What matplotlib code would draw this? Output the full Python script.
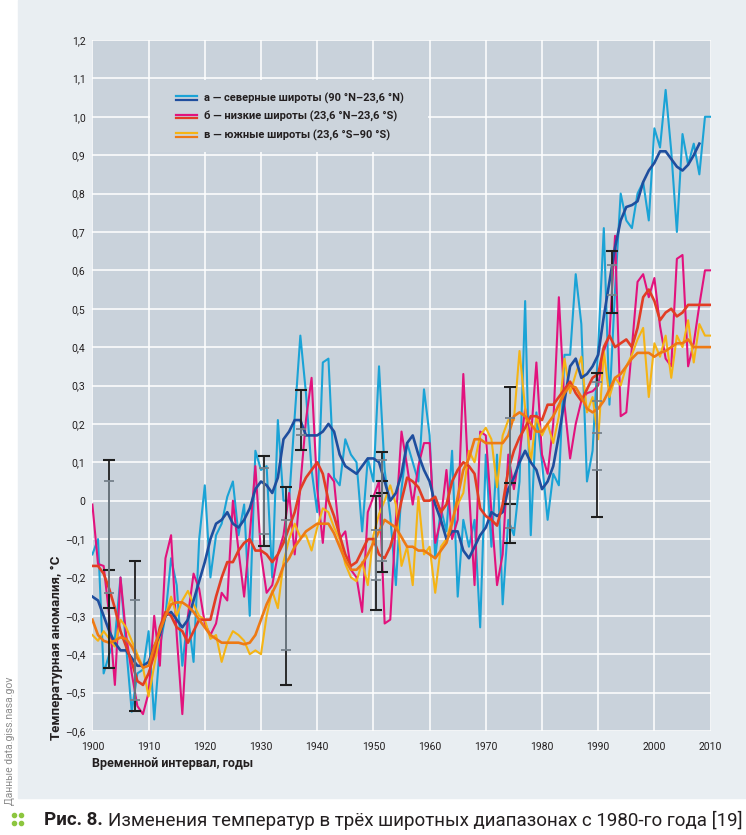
import numpy as np
import matplotlib.pyplot as plt
from matplotlib.patches import Rectangle
from matplotlib.lines import Line2D
from matplotlib.ticker import FuncFormatter, MultipleLocator

plt.rcParams['font.family'] = ['Roboto', 'DejaVu Sans']

years = list(range(1900, 2011))

# a - northern latitudes (90N-23.6N)
north_annual = [
    -0.14, -0.10, -0.45, -0.40, -0.36, -0.20, -0.38, -0.55, -0.45, -0.44,
    -0.34, -0.57, -0.38, -0.30, -0.15, -0.22, -0.43, -0.30, -0.42, -0.10,
    0.04, -0.20, -0.09, -0.06, 0.01, 0.05, -0.09, -0.01, -0.30, 0.13,
    0.08, 0.09, -0.20, 0.21, 0.00, 0.00, 0.22, 0.43, 0.28, 0.08,
    -0.03, 0.36, 0.37, 0.06, 0.04, 0.16, 0.12, 0.10, -0.08, 0.11,
    0.05, 0.35, 0.08, -0.04, -0.22, 0.03, 0.15, 0.10, 0.05, 0.29,
    0.17, -0.15, -0.02, -0.08, 0.13, -0.25, -0.05, -0.12, -0.05, -0.33,
    0.12, -0.12, 0.12, -0.27, -0.05, -0.09, 0.05, 0.52, -0.09, 0.23,
    0.10, -0.05, 0.07, 0.04, 0.38, 0.38, 0.59, 0.46, 0.05, 0.13,
    0.40, 0.71, 0.25, 0.55, 0.80, 0.73, 0.71, 0.80, 0.83, 0.73,
    0.97, 0.92, 1.07, 0.91, 0.70, 0.955, 0.875, 0.93, 0.85, 1.00, 1.00,
]
north_smooth = [
    -0.25, -0.26, -0.30, -0.34, -0.37, -0.39, -0.39, -0.41, -0.43, -0.43,
    -0.42, -0.38, -0.35, -0.30, -0.29, -0.31, -0.33, -0.31, -0.26, -0.21,
    -0.16, -0.10, -0.06, -0.05, -0.03, -0.06, -0.07, -0.05, -0.02, 0.03,
    0.05, 0.04, 0.02, 0.06, 0.16, 0.18, 0.21, 0.21, 0.17, 0.17,
    0.17, 0.18, 0.20, 0.18, 0.12, 0.09, 0.08, 0.07, 0.09, 0.11,
    0.11, 0.10, 0.05, 0.00, 0.02, 0.07, 0.15, 0.17, 0.12, 0.08,
    0.05, -0.01, -0.05, -0.10, -0.08, -0.08, -0.13, -0.15, -0.12, -0.09,
    -0.07, -0.03, -0.04, -0.03, 0.03, 0.06, 0.10, 0.13, 0.10, 0.08,
    0.03, 0.05, 0.09, 0.17, 0.26, 0.35, 0.37, 0.32, 0.33, 0.35,
    0.38, 0.48, 0.57, 0.66, 0.73, 0.765, 0.77, 0.78, 0.83, 0.86,
    0.88, 0.91, 0.91, 0.89, 0.87, 0.86, 0.875, 0.90, 0.93, np.nan, np.nan,
]

# b - low latitudes (23.6N-23.6S)
tropic_annual = [
    -0.01, -0.165, -0.17, -0.30, -0.48, -0.20, -0.35, -0.45, -0.535, -0.556,
    -0.50, -0.30, -0.43, -0.15, -0.09, -0.35, -0.556, -0.30, -0.19, -0.23,
    -0.32, -0.35, -0.32, -0.24, -0.26, 0.00, -0.13, -0.25, -0.09, 0.09,
    -0.14, -0.24, -0.22, -0.14, -0.09, 0.02, -0.14, 0.04, 0.21, 0.32,
    0.03, -0.11, 0.07, 0.05, -0.10, -0.08, -0.18, -0.20, -0.29, -0.03,
    0.01, 0.05, -0.32, -0.31, -0.05, 0.18, 0.09, -0.01, 0.09, 0.15,
    0.15, -0.11, -0.05, 0.08, -0.10, -0.05, 0.33, 0.03, -0.22, 0.18,
    0.17, -0.03, -0.22, -0.14, 0.12, 0.03, 0.12, 0.24, 0.16, 0.36,
    0.12, 0.07, 0.20, 0.53, 0.25, 0.11, 0.20, 0.26, 0.28, 0.285,
    0.30, 0.39, 0.43, 0.69, 0.22, 0.23, 0.40, 0.57, 0.59, 0.53,
    0.58, 0.455, 0.37, 0.35, 0.63, 0.64, 0.35, 0.41, 0.51, 0.60, 0.60,
]
tropic_smooth = [
    -0.17, -0.17, -0.19, -0.23, -0.28, -0.34, -0.38, -0.42, -0.47, -0.48,
    -0.45, -0.40, -0.33, -0.29, -0.30, -0.33, -0.34, -0.37, -0.34, -0.31,
    -0.31, -0.31, -0.25, -0.20, -0.16, -0.16, -0.13, -0.11, -0.10, -0.13,
    -0.13, -0.14, -0.16, -0.14, -0.11, -0.07, -0.03, 0.03, 0.06, 0.08,
    0.10, 0.07, 0.00, -0.04, -0.09, -0.14, -0.17, -0.16, -0.13, -0.10,
    -0.10, -0.14, -0.15, -0.12, -0.07, 0.00, 0.06, 0.05, 0.035, 0.00,
    0.00, 0.01, -0.03, -0.01, 0.05, 0.08, 0.10, 0.09, 0.07, -0.02,
    -0.04, -0.05, -0.065, -0.01, 0.08, 0.13, 0.165, 0.19, 0.22, 0.22,
    0.21, 0.25, 0.25, 0.27, 0.29, 0.31, 0.28, 0.26, 0.29, 0.32,
    0.33, 0.40, 0.43, 0.40, 0.41, 0.42, 0.40, 0.45, 0.53, 0.55,
    0.52, 0.47, 0.49, 0.50, 0.48, 0.49, 0.51, 0.51, 0.51, 0.51, 0.51,
]

# c - southern latitudes (23.6S-90S)
south_annual = [
    -0.35, -0.365, -0.34, -0.36, -0.38, -0.31, -0.33, -0.365, -0.40, -0.435,
    -0.51, -0.43, -0.35, -0.30, -0.25, -0.30, -0.26, -0.235, -0.27, -0.30,
    -0.31, -0.36, -0.35, -0.42, -0.37, -0.34, -0.35, -0.365, -0.40, -0.39,
    -0.40, -0.30, -0.235, -0.28, -0.16, -0.10, -0.06, -0.095, -0.09, -0.13,
    -0.07, -0.02, -0.03, -0.07, -0.10, -0.165, -0.20, -0.21, -0.16, -0.22,
    -0.09, -0.035, 0.00, 0.04, -0.01, -0.17, -0.12, -0.22, 0.01, -0.14,
    -0.12, -0.24, -0.12, -0.10, -0.05, -0.01, 0.02, 0.13, 0.10, 0.17,
    0.19, 0.16, 0.035, 0.17, 0.21, 0.21, 0.39, 0.24, 0.10, 0.22,
    0.17, 0.20, 0.15, 0.22, 0.37, 0.28, 0.33, 0.375, 0.23, 0.27,
    0.16, 0.39, 0.27, 0.32, 0.30, 0.35, 0.38, 0.42, 0.45, 0.27,
    0.41, 0.375, 0.43, 0.32, 0.43, 0.40, 0.47, 0.36, 0.46, 0.43, 0.43,
]
south_smooth = [
    -0.31, -0.35, -0.365, -0.37, -0.365, -0.356, -0.36, -0.38, -0.41, -0.435,
    -0.43, -0.38, -0.34, -0.30, -0.27, -0.265, -0.265, -0.275, -0.29, -0.31,
    -0.33, -0.35, -0.36, -0.37, -0.37, -0.37, -0.37, -0.374, -0.37, -0.35,
    -0.31, -0.27, -0.24, -0.21, -0.17, -0.15, -0.12, -0.10, -0.08, -0.07,
    -0.06, -0.06, -0.06, -0.085, -0.12, -0.155, -0.18, -0.18, -0.165, -0.14,
    -0.11, -0.08, -0.05, -0.06, -0.07, -0.095, -0.12, -0.12, -0.13, -0.13,
    -0.14, -0.15, -0.13, -0.11, -0.06, 0.01, 0.08, 0.11, 0.16, 0.16,
    0.15, 0.15, 0.15, 0.15, 0.17, 0.22, 0.23, 0.22, 0.20, 0.18,
    0.18, 0.20, 0.22, 0.25, 0.28, 0.30, 0.295, 0.27, 0.24, 0.23,
    0.24, 0.26, 0.29, 0.32, 0.33, 0.35, 0.37, 0.385, 0.385, 0.385,
    0.375, 0.385, 0.39, 0.40, 0.41, 0.41, 0.42, 0.40, 0.40, 0.40, 0.40,
]

# uncertainty bars
err_black_x = [1903, 1903, 1907.5, 1930.5, 1934.4, 1937.1, 1950.5, 1951.6, 1951.6, 1974.3, 1974.3, 1989.8, 1992.5]
err_black_lo = [-0.435, -0.28, -0.547, -0.117, -0.48, 0.133, -0.286, -0.185, 0.021, -0.109, -0.008, -0.042, 0.49]
err_black_hi = [0.107, -0.18, -0.156, 0.117, 0.036, 0.289, 0.013, 0.128, 0.052, 0.297, 0.047, 0.333, 0.651]
err_gray_x = [1903, 1907.5, 1930.5, 1934.4, 1937.1, 1950.5, 1951.6, 1974.3, 1989.8, 1989.8, 1992.5]
err_gray_lo = [-0.24, -0.52, -0.086, -0.39, 0.17, -0.206, -0.156, -0.07, 0.08, 0.177, 0.537]
err_gray_hi = [0.052, -0.26, 0.086, -0.05, 0.187, -0.076, 0.107, 0.216, 0.31, 0.26, 0.615]

legend_labels = [
    'а — северные широты (90 °N–23,6 °N)',
    'б — низкие широты (23,6 °N–23,6 °S)',
    'в — южные широты (23,6 °S–90 °S)',
]

c_lblue, c_dblue = '#1aa3d6', '#1f4e9e'
c_mag, c_red = '#e2127d', '#e23d24'
c_yel, c_org = '#f5b414', '#ee7a14'
txt = '#231f20'

W, H = 746, 835
fig = plt.figure(figsize=(W / 100, H / 100), dpi=100, facecolor='white')
fig.add_artist(Rectangle((18 / W, 1 - 798 / H), 1 - 18 / W, 798 / H,
                         transform=fig.transFigure, color='#e9eef2', zorder=0))

ax_l, ax_r, ax_t, ax_b = 92.4, 710.6, 40, 731
ax = fig.add_axes([ax_l / W, 1 - ax_b / H, (ax_r - ax_l) / W, (ax_b - ax_t) / H])
ax.set_facecolor('#c9d2db')
for s in ax.spines.values():
    s.set_visible(False)
ax.set_xlim(1900, 2010)
ax.set_ylim(-0.6, 1.2)
ax.xaxis.set_major_locator(MultipleLocator(10))
ax.yaxis.set_major_locator(MultipleLocator(0.1))
ax.grid(color='white', lw=1.1)
ax.set_axisbelow(True)


def yfmt(v, pos):
    if abs(v) < 1e-9:
        return '0'
    return f'{v:.1f}'.replace('.', ',').replace('-', '–')


ax.yaxis.set_major_formatter(FuncFormatter(yfmt))
ax.tick_params(length=0, labelsize=7.5, colors=txt)
ax.tick_params(axis='x', pad=8)
ax.tick_params(axis='y', pad=5)

ax.plot(years, north_annual, color=c_lblue, lw=1.5, zorder=2)
ax.plot(years, tropic_annual, color=c_mag, lw=1.5, zorder=2)
ax.plot(years, south_annual, color=c_yel, lw=1.5, zorder=2)
ax.plot(years, north_smooth, color=c_dblue, lw=1.9, zorder=3)
ax.plot(years, tropic_smooth, color=c_red, lw=1.9, zorder=3)
ax.plot(years, south_smooth, color=c_org, lw=1.9, zorder=3)

gx = np.array(err_gray_x)
glo, ghi = np.array(err_gray_lo), np.array(err_gray_hi)
gmid = (glo + ghi) / 2
bx = np.array(err_black_x)
blo, bhi = np.array(err_black_lo), np.array(err_black_hi)
bmid = (blo + bhi) / 2
ax.errorbar(bx, bmid, yerr=[bmid - blo, bhi - bmid], fmt='none', ecolor='#1e1e1e',
            elinewidth=1.3, capsize=4, capthick=1.5, zorder=5)
ax.errorbar(gx, gmid, yerr=[gmid - glo, ghi - gmid], fmt='none', ecolor='#76828c',
            elinewidth=1.2, capsize=3.5, capthick=1.3, zorder=6)


def px(x, y):
    return (x - ax_l) / (ax_r - ax_l), (ax_b - y) / (ax_b - ax_t)


# legend box
x0, y0 = px(150, 152)
x1, y1 = px(428, 80)
ax.add_patch(Rectangle((x0, y0), x1 - x0, y1 - y0, transform=ax.transAxes,
                       facecolor='#ccd4dc', edgecolor='none', zorder=7))
pairs = [(c_lblue, c_dblue), (c_mag, c_red), (c_yel, c_org)]
for i, (lab, (ca, cb)) in enumerate(zip(legend_labels, pairs)):
    yc = 98 + i * 18.5
    for dy, c in ((-1.9, ca), (1.9, cb)):
        xa, ya = px(176, yc + dy)
        xb, _ = px(197, yc + dy)
        ax.add_line(Line2D([xa, xb], [ya, ya], transform=ax.transAxes,
                           color=c, lw=1.6, zorder=8))
    xt, yt = px(204, yc)
    ax.text(xt, yt, lab, transform=ax.transAxes, ha='left', va='center',
            fontsize=8, weight='bold', color=txt, zorder=8)

fig.text(57 / W, 1 - 740 / H, 'Температурная аномалия, °С', rotation=90,
         ha='center', va='bottom', fontsize=9.5, weight='bold', color=txt)
fig.text(92 / W, 1 - 763 / H, 'Временной интервал, годы', ha='left', va='center',
         fontsize=9, weight='bold', color=txt)
fig.text(10 / W, 1 - 805 / H, 'Данные data.giss.nasa.gov', rotation=90,
         ha='center', va='bottom', fontsize=7.5, color='#8c8c8c')

# caption
green = '#8dc63f'
for dx in (14, 21):
    for dy in (815, 823):
        fig.add_artist(Line2D([dx / W], [1 - dy / H], transform=fig.transFigure,
                              marker='o', ms=3, color=green, ls='none'))
cap1 = fig.text(44 / W, 1 - 820 / H, 'Рис. 8.', ha='left', va='center',
                fontsize=13.5, weight='bold', color=txt)
fig.canvas.draw()
bb = cap1.get_window_extent()
fig.text((bb.x1 + 5) / W, 1 - 820 / H,
         'Изменения температур в трёх широтных диапазонах с 1980-го года [19]',
         ha='left', va='center', fontsize=13.5, color=txt)

fig.savefig('out.png', dpi=100, facecolor='white')
